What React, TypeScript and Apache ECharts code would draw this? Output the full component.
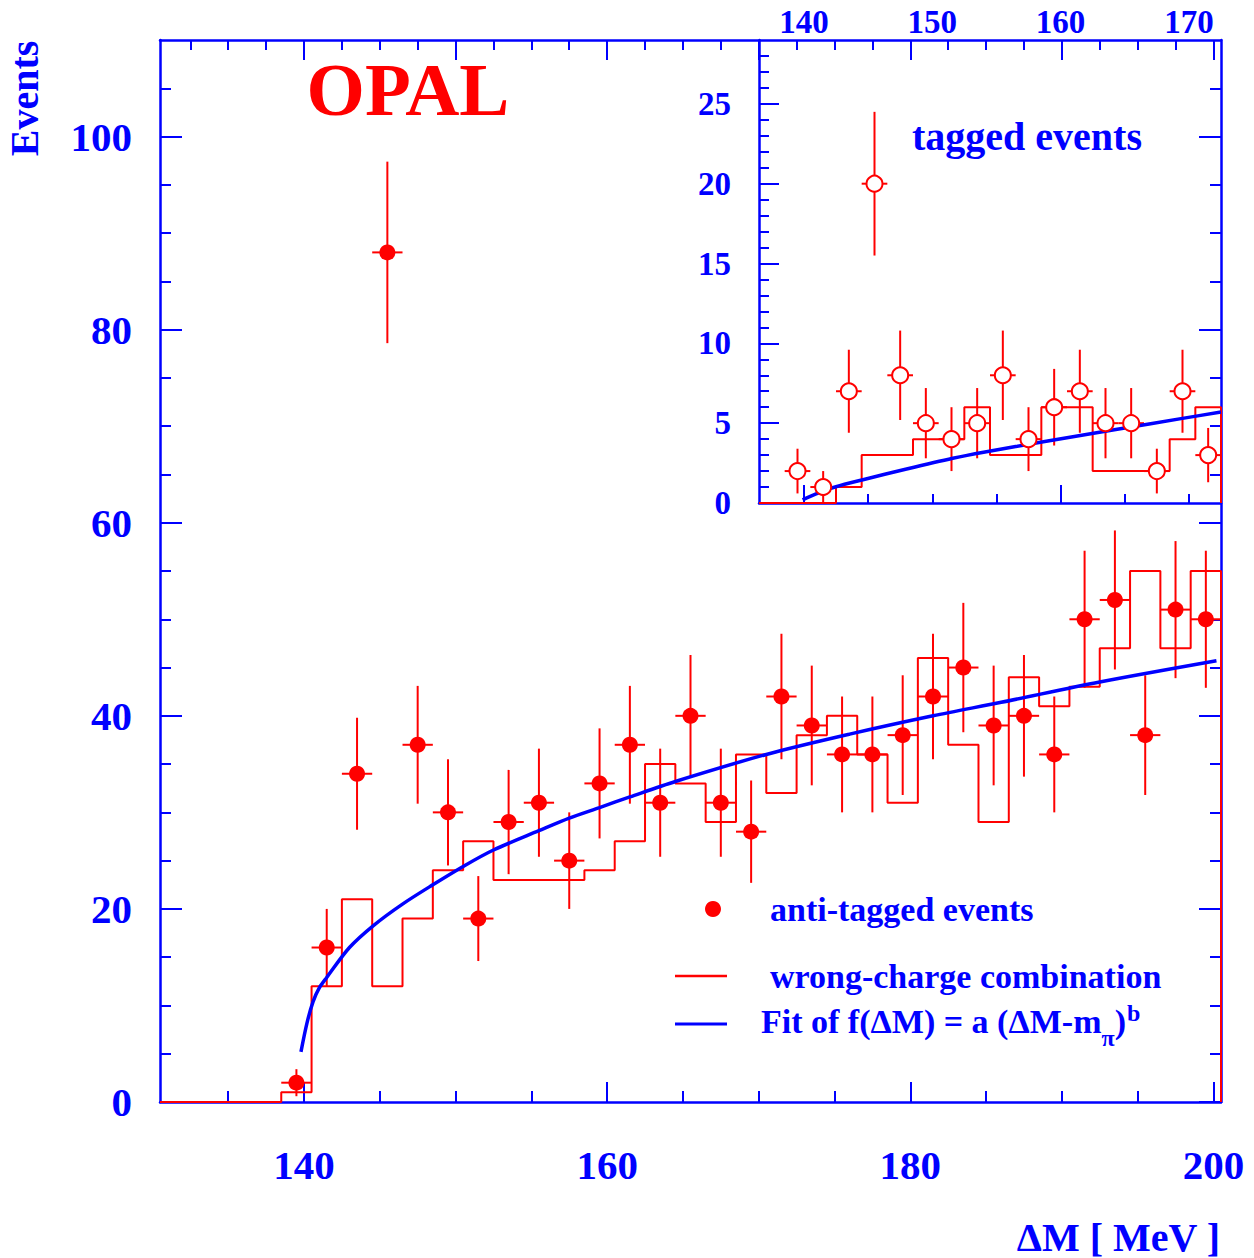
import React, { useEffect, useRef } from 'react';
import * as echarts from 'echarts';

// anti-tagged events (main plot), bin centres in MeV
const mainCenters = [139.5, 141.5, 143.5, 145.5, 147.5, 149.5, 151.5, 153.5, 155.5, 157.5, 159.5,
  161.5, 163.5, 165.5, 167.5, 169.5, 171.5, 173.5, 175.5, 177.5, 179.5, 181.5, 183.5, 185.5,
  187.5, 189.5, 191.5, 193.5, 195.5, 197.5, 199.5];
const mainCounts = [2, 16, 34, 88, 37, 30, 19, 29, 31, 25, 33, 37, 31, 40, 31, 28, 42, 39, 36, 36,
  38, 42, 45, 39, 40, 36, 50, 52, 38, 51, 50];
const mainErrors = [1.4, 4.0, 5.8, 9.4, 6.1, 5.5, 4.4, 5.4, 5.6, 5.0, 5.7, 6.1, 5.6, 6.3, 5.6, 5.3,
  6.5, 6.2, 6.0, 6.0, 6.2, 6.5, 6.7, 6.2, 6.3, 6.0, 7.1, 7.2, 6.2, 7.1, 7.1];
// wrong-charge combination histogram, same bins
const mainWrong = [1, 12, 21, 12, 19, 24, 27, 23, 23, 23, 24, 27, 35, 33, 29, 36, 32, 38, 40, 36,
  31, 46, 37, 29, 44, 41, 43, 47, 55, 47, 55];
// fit curve
const mainFitX = [139.8, 140.2, 140.6, 141, 141.5, 143, 144.6, 146.5, 148.5, 150.5, 152.5, 155.5,
  157.5, 159.5, 161.5, 164.5, 170.5, 176, 181.5, 186, 192.5, 200.2];
const mainFitY = [5.2, 8.2, 10.4, 11.8, 12.9, 16.0, 18.3, 20.5, 22.5, 24.4, 26.1, 28.1, 29.4, 30.5,
  31.6, 33.2, 36.0, 38.1, 40.0, 41.4, 43.5, 45.7];

// tagged events (inset)
const insetCenters = [139.5, 141.5, 143.5, 145.5, 147.5, 149.5, 151.5, 153.5, 155.5, 157.5, 159.5,
  161.5, 163.5, 165.5, 167.5, 169.5, 171.5];
const insetCounts = [2, 1, 7, 20, 8, 5, 4, 5, 8, 4, 6, 7, 5, 5, 2, 7, 3];
const insetErrors = [1.4, 1.0, 2.6, 4.5, 2.8, 2.2, 2.0, 2.2, 2.8, 2.0, 2.4, 2.6, 2.2, 2.2, 1.4, 2.6, 1.7];
const insetWrong = [0, 0, 1, 3, 3, 4, 4, 6, 3, 3, 6, 6, 2, 2, 2, 4, 6];
const insetFitX = [139.9, 140.9, 142.5, 144.6, 148, 151.6, 154, 159, 164.3, 169.5, 172.5];
const insetFitY = [0.2, 0.56, 1.02, 1.46, 2.13, 2.8, 3.18, 3.88, 4.6, 5.3, 5.7];

// tick positions
const mainXMajor = [140, 160, 180, 200];
const mainXMinor = [135, 145, 150, 155, 165, 170, 175, 185, 190, 195];
const mainTopMajor = [140, 150, 160, 170, 180, 190, 200];
const mainTopMinor = [132.5, 135, 137.5, 142.5, 145, 147.5, 152.5, 155, 157.5, 162.5, 165, 167.5,
  172.5, 175, 177.5, 182.5, 185, 187.5, 192.5, 195, 197.5];
const mainYMajor = [0, 20, 40, 60, 80, 100];
const mainYMinor = [5, 10, 15, 25, 30, 35, 45, 50, 55, 65, 70, 75, 85, 90, 95, 105];
const insetXLabels = [140, 150, 160, 170];
const insetXMajor = [140, 160];
const insetXMinor = [145, 150, 155, 165, 170];
const insetYMajor = [0, 5, 10, 15, 20, 25];
const insetYMinor = [1, 2, 3, 4, 6, 7, 8, 9, 11, 12, 13, 14, 16, 17, 18, 19, 21, 22, 23, 24, 26, 27, 28];

const BLUE = '#0000ff';
const RED = '#ff0000';
const FONT = '"Liberation Serif", "Times New Roman", serif';

// bin low edges with counts, closed down to zero at both ends
const histLine = (lo: number, hi: number, centers: number[], vals: number[]) => [
  [lo, 0],
  ...centers.map((c, i) => [c - 1, vals[i]]),
  [hi, vals[vals.length - 1]],
  [hi, 0],
];

const axisBase = (gridIndex: number, position: string, min: number, max: number) => ({
  type: 'value',
  gridIndex,
  position,
  min,
  max,
  axisLine: { show: true, onZero: false, lineStyle: { color: BLUE, width: 2.5 } },
  splitLine: { show: false },
  axisLabel: { show: false },
});

const ticks = (values: number[], length: number) => ({
  show: true,
  inside: true,
  length,
  customValues: values,
  lineStyle: { color: BLUE, width: 2 },
});

const labels = (values: number[], fontSize: number, margin: number) => ({
  show: true,
  customValues: values,
  color: BLUE,
  fontSize,
  fontWeight: 'bold',
  fontFamily: FONT,
  margin,
});

const errorBars = (xIdx: number, yIdx: number, centers: number[], vals: number[], errs: number[]) => ({
  type: 'custom',
  xAxisIndex: xIdx,
  yAxisIndex: yIdx,
  data: centers.map((c, i) => [c, vals[i], errs[i]]),
  renderItem: (_params: any, api: any) => {
    const x = api.value(0);
    const y = api.value(1);
    const e = api.value(2);
    const top = api.coord([x, y + e]);
    const bot = api.coord([x, Math.max(y - e, 0)]);
    const l = api.coord([x - 1, y]);
    const r = api.coord([x + 1, y]);
    const style = { stroke: RED, lineWidth: 2 };
    return {
      type: 'group',
      children: [
        { type: 'line', shape: { x1: top[0], y1: top[1], x2: bot[0], y2: bot[1] }, style },
        { type: 'line', shape: { x1: l[0], y1: l[1], x2: r[0], y2: r[1] }, style },
      ],
    };
  },
  z: 3,
});

const textEl = (text: string, x: number, y: number, size: number, color: string, align = 'left', extra: any = {}) => ({
  type: 'text',
  x,
  y,
  ...extra,
  style: {
    text,
    fill: color,
    font: `bold ${size}px ${FONT}`,
    align,
    verticalAlign: 'middle',
    textAlign: align,
    textVerticalAlign: 'middle',
  },
  z: 10,
});

const App = () => {
  const chartRef = useRef<HTMLDivElement>(null);

  useEffect(() => {
    document.body.style.margin = '0';
    const chart = echarts.init(chartRef.current, null, { renderer: 'svg' });

    const option = {
      animation: false,
      backgroundColor: '#ffffff',
      grid: [
        { left: 160, top: 40, width: 1061, height: 1062 },
        { left: 759, top: 40, width: 462, height: 463 },
      ],
      xAxis: [
        // main plot
        { ...axisBase(0, 'bottom', 130.5, 200.5), axisTick: ticks(mainXMajor, 20), axisLabel: labels(mainXMajor, 41, 42) },
        { ...axisBase(0, 'bottom', 130.5, 200.5), axisLine: { show: false, onZero: false }, axisTick: ticks(mainXMinor, 11) },
        { ...axisBase(0, 'top', 130.5, 200.5), axisTick: ticks(mainTopMajor, 20) },
        { ...axisBase(0, 'top', 130.5, 200.5), axisLine: { show: false, onZero: false }, axisTick: ticks(mainTopMinor, 10) },
        // inset
        { ...axisBase(1, 'bottom', 136.5, 172.5), axisTick: ticks(insetXMajor, 18) },
        { ...axisBase(1, 'bottom', 136.5, 172.5), axisLine: { show: false, onZero: false }, axisTick: ticks(insetXMinor, 9) },
        { ...axisBase(1, 'top', 136.5, 172.5), axisLine: { show: false, onZero: false }, axisTick: { show: false }, axisLabel: labels(insetXLabels, 33, 2) },
      ],
      yAxis: [
        // main plot
        { ...axisBase(0, 'left', 0, 110), axisTick: ticks(mainYMajor, 22), axisLabel: labels(mainYMajor, 41, 28) },
        { ...axisBase(0, 'left', 0, 110), axisLine: { show: false, onZero: false }, axisTick: ticks(mainYMinor, 11) },
        { ...axisBase(0, 'right', 0, 110), axisTick: ticks(mainYMajor, 22) },
        { ...axisBase(0, 'right', 0, 110), axisLine: { show: false, onZero: false }, axisTick: ticks(mainYMinor, 11) },
        // inset
        { ...axisBase(1, 'left', 0, 29), axisTick: ticks(insetYMajor, 20), axisLabel: labels(insetYMajor, 33, 28) },
        { ...axisBase(1, 'left', 0, 29), axisLine: { show: false, onZero: false }, axisTick: ticks(insetYMinor, 10) },
      ],
      series: [
        {
          name: 'wrong-charge combination',
          type: 'line',
          xAxisIndex: 0,
          yAxisIndex: 0,
          step: 'end',
          data: histLine(130.5, 200.5, mainCenters, mainWrong),
          showSymbol: false,
          lineStyle: { color: RED, width: 2 },
          z: 2,
        },
        {
          name: 'fit',
          type: 'line',
          xAxisIndex: 0,
          yAxisIndex: 0,
          smooth: 0.3,
          data: mainFitX.map((x, i) => [x, mainFitY[i]]),
          showSymbol: false,
          lineStyle: { color: BLUE, width: 3.5 },
          z: 4,
        },
        errorBars(0, 0, mainCenters, mainCounts, mainErrors),
        {
          name: 'anti-tagged events',
          type: 'scatter',
          xAxisIndex: 0,
          yAxisIndex: 0,
          symbol: 'circle',
          symbolSize: 16,
          data: mainCenters.map((c, i) => [c, mainCounts[i]]),
          itemStyle: { color: RED, opacity: 1 },
          z: 5,
        },
        {
          name: 'inset wrong-charge',
          type: 'line',
          xAxisIndex: 4,
          yAxisIndex: 4,
          step: 'end',
          data: histLine(136.5, 172.5, insetCenters, insetWrong),
          showSymbol: false,
          lineStyle: { color: RED, width: 2 },
          z: 2,
        },
        {
          name: 'inset fit',
          type: 'line',
          xAxisIndex: 4,
          yAxisIndex: 4,
          smooth: 0.3,
          data: insetFitX.map((x, i) => [x, insetFitY[i]]),
          showSymbol: false,
          lineStyle: { color: BLUE, width: 3.5 },
          z: 4,
        },
        errorBars(4, 4, insetCenters, insetCounts, insetErrors),
        {
          name: 'tagged events',
          type: 'scatter',
          xAxisIndex: 4,
          yAxisIndex: 4,
          symbol: 'circle',
          symbolSize: 16,
          data: insetCenters.map((c, i) => [c, insetCounts[i]]),
          itemStyle: { color: '#ffffff', borderColor: RED, borderWidth: 2, opacity: 1 },
          z: 5,
        },
      ],
      graphic: [
        textEl('OPAL', 408, 89, 75, RED, 'center'),
        textEl('Events', 24.5, 98.5, 40, BLUE, 'center', { rotation: Math.PI / 2 }),
        textEl('ΔM [ MeV ]', 1220, 1237, 40, BLUE, 'right'),
        textEl('tagged events', 912, 136, 40, BLUE, 'left'),
        // legend
        { type: 'circle', shape: { cx: 713, cy: 909, r: 8 }, style: { fill: RED }, z: 10 },
        textEl('anti-tagged events', 770, 909.5, 34, BLUE, 'left'),
        { type: 'line', shape: { x1: 675, y1: 976, x2: 727, y2: 976 }, style: { stroke: RED, lineWidth: 2.5 }, z: 10 },
        textEl('wrong-charge combination', 770, 976.5, 34, BLUE, 'left'),
        { type: 'line', shape: { x1: 675, y1: 1024, x2: 727, y2: 1024 }, style: { stroke: BLUE, lineWidth: 3 }, z: 10 },
        {
          type: 'text',
          x: 761,
          y: 994.5,
          z: 10,
          style: {
            text: '{n|Fit of f(ΔM) = a (ΔM-m}{s|π}{n|)}{p|b}',
            align: 'left',
            verticalAlign: 'top',
            textAlign: 'left',
            textVerticalAlign: 'top',
            rich: {
              n: { fill: BLUE, fontSize: 34, fontWeight: 'bold', fontFamily: FONT, lineHeight: 40, verticalAlign: 'top', padding: [10, 0, 0, 0] },
              s: { fill: BLUE, fontSize: 24, fontWeight: 'bold', fontFamily: FONT, lineHeight: 24, verticalAlign: 'top', padding: [31, 0, 0, 0] },
              p: { fill: BLUE, fontSize: 24, fontWeight: 'bold', fontFamily: FONT, lineHeight: 24, verticalAlign: 'top', padding: [6, 0, 0, 1] },
            },
          },
        },
      ],
    };

    chart.setOption(option);
    return () => {
      chart.dispose();
    };
  }, []);

  return <div ref={chartRef} style={{ width: '1254px', height: '1258px', backgroundColor: 'white' }} />;
};

export default App;
